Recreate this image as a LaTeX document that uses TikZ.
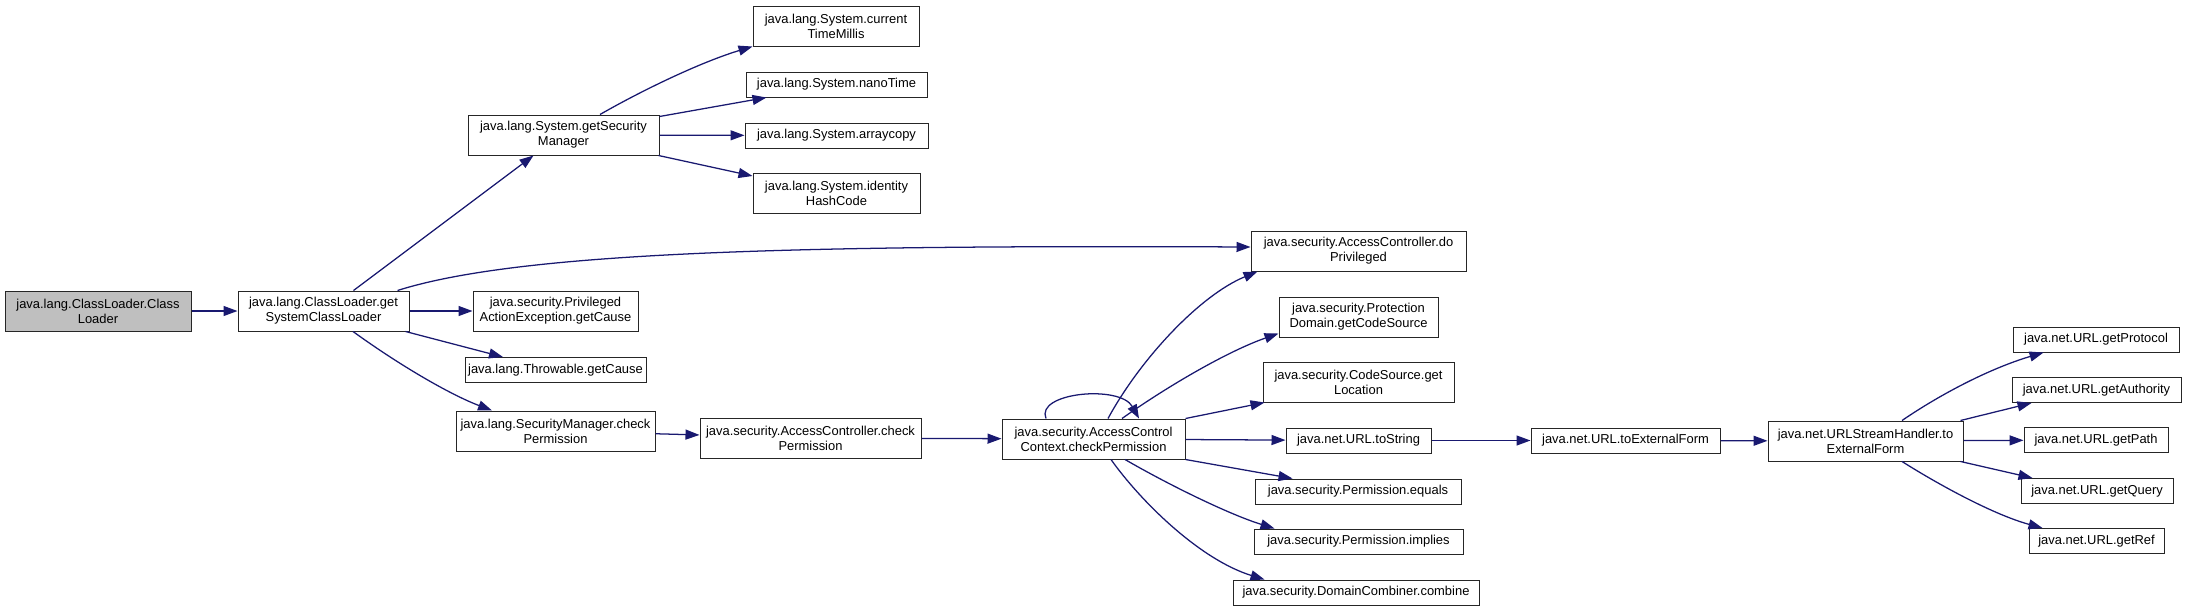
\documentclass[tikz,border=0pt]{standalone}
\usepackage{fontspec}
\setmainfont{Liberation Sans}
\usetikzlibrary{arrows.meta,calc}
\definecolor{callblue}{RGB}{25,25,112}

\begin{document}
\begin{tikzpicture}[
			x=0.75pt, y=-0.75pt,
			fn/.style={draw=black!85, line width=0.75pt, fill=white, inner sep=0pt,
				align=center, font=\fontsize{9.7}{11.25}\selectfont,
				minimum width=#1*0.75pt, minimum height=25*0.75pt},
			fn2/.style={fn=#1, minimum height=40*0.75pt},
			root/.style={fn2=#1, fill=black!25},
			call/.style={draw=callblue, line width=0.95pt, -{Triangle[length=10.5pt,width=7.5pt]}}
			]
			\useasboundingbox (0,0) rectangle (2187,611);
			
			\node[root=186] (clc) at (98,311) {java.lang.ClassLoader.Class\\Loader};
			\node[fn2=171] (gscl) at (323.5,311) {java.lang.ClassLoader.get\\SystemClassLoader};
			\node[fn2=191] (gsm) at (563.5,135) {java.lang.System.getSecurity\\Manager};
			\node[fn2=166] (ctm) at (836,26) {java.lang.System.current\\TimeMillis};
			\node[fn=181] (nano) at (836.5,84.5) {java.lang.System.nanoTime};
			\node[fn=183] (arr) at (836.5,135.5) {java.lang.System.arraycopy};
			\node[fn2=167] (ihc) at (836.5,193.5) {java.lang.System.identity\\HashCode};
			\node[fn2=165] (pae) at (555.5,311) {java.security.Privileged\\ActionException.getCause};
			\node[fn=181] (thr) at (555.5,370) {java.lang.Throwable.getCause};
			\node[fn2=199] (smcp) at (555.5,431) {java.lang.SecurityManager.check\\Permission};
			\node[fn2=221] (accp) at (810.5,438) {java.security.AccessController.check\\Permission};
			\node[fn2=183] (acc) at (1093.5,439) {java.security.AccessControl\\Context.checkPermission};
			\node[fn2=215] (dopriv) at (1358.5,251) {java.security.AccessController.do\\Privileged};
			\node[fn2=159] (pd) at (1358.5,317) {java.security.Protection\\Domain.getCodeSource};
			\node[fn2=191] (csl) at (1358.5,382) {java.security.CodeSource.get\\Location};
			\node[fn=145] (uts) at (1358.5,440.5) {java.net.URL.toString};
			\node[fn=206] (peq) at (1358,491.5) {java.security.Permission.equals};
			\node[fn=209] (pimp) at (1358.5,541.5) {java.security.Permission.implies};
			\node[fn=246] (dcc) at (1356,592.5) {java.security.DomainCombiner.combine};
			\node[fn=189] (utef) at (1625.5,440.5) {java.net.URL.toExternalForm};
			\node[fn2=195] (ushtef) at (1865.5,441) {java.net.URLStreamHandler.to\\ExternalForm};
			\node[fn=166] (gprot) at (2096,339.5) {java.net.URL.getProtocol};
			\node[fn=169] (gauth) at (2096.5,390) {java.net.URL.getAuthority};
			\node[fn=144] (gpath) at (2096,440) {java.net.URL.getPath};
			\node[fn=152] (gquery) at (2097,491) {java.net.URL.getQuery};
			\node[fn=135] (gref) at (2096.5,541) {java.net.URL.getRef};
			
			\draw[call] (clc) -- (gscl);
			\draw[call] ($(gscl.north)+(30,0)$) -- ($(gsm.south)+(-30,0)$);
			\draw[call] ($(gscl.north east)+(-12,0)$) .. controls +(123,-39) and +(-451,-2) .. ($(dopriv.west)+(0,-4)$);
			\draw[call] (gscl) -- (pae);
			\draw[call] ($(gscl.south east)+(-4,0)$) -- ($(thr.north)+(-52.5,0)$);
			\draw[call] ($(gscl.south)+(29.5,0)$) .. controls +(47,34) and +(-42,-16) .. ($(smcp.north)+(-63.5,0)$);
			
			\draw[call] ($(gsm.north)+(36.5,0)$) .. controls +(40,-23) and +(-53,16) .. (ctm.south west);
			\draw[call] ($(gsm.north east)+(0,2)$) -- ($(nano.south west)+(21,0)$);
			\draw[call] (gsm) -- (arr);
			\draw[call] ($(gsm.south east)+(-1,0)$) -- ($(ihc.north west)+(0,3)$);
			
			\draw[call] (smcp) -- (accp);
			\draw[call] (accp) -- (acc);
			
			\draw[call] ($(acc.north)+(14.5,0)$) .. controls +(32,-59) and +(-58,24) .. ($(dopriv.south west)+(7,0)$);
			\draw[call] ($(acc.north)+(28.5,0)$) .. controls +(48,-34) and +(-49,17) .. ($(pd.south west)+(0,-4)$);
			\draw[call] (acc.north east) -- ($(csl.south west)+(2,0)$);
			\draw[call] (acc) -- (uts);
			\draw[call] (acc.south east) -- ($(peq.north west)+(38,0)$);
			\draw[call] ($(acc.south)+(31.5,0)$) .. controls +(45,26) and +(-45,-14) .. ($(pimp.north west)+(21,0)$);
			\draw[call] ($(acc.south)+(17.5,0)$) .. controls +(29,41) and +(-65,-20) .. ($(dcc.north west)+(32,0)$);
			\draw[call] ($(acc.north)+(-47.5,0)$) .. controls +(-11,-26) and +(-19,-34) .. ($(acc.north)+(45.5,0)$);
			
			\draw[call] (uts) -- (utef);
			\draw[call] (utef) -- (ushtef);
			
			\draw[call] ($(ushtef.north)+(36.5,0)$) .. controls +(38,-26) and +(-54,16) .. ($(gprot.south west)+(31,0)$);
			\draw[call] ($(ushtef.north east)+(-3,0)$) -- ($(gauth.south west)+(20,0)$);
			\draw[call] (ushtef) -- (gpath);
			\draw[call] ($(ushtef.south east)+(-3,0)$) -- ($(gquery.north west)+(12,0)$);
			\draw[call] ($(ushtef.south)+(36.5,0)$) .. controls +(38,24) and +(-48,-13) .. ($(gref.north west)+(14,0)$);
		\end{tikzpicture}
\end{document}
